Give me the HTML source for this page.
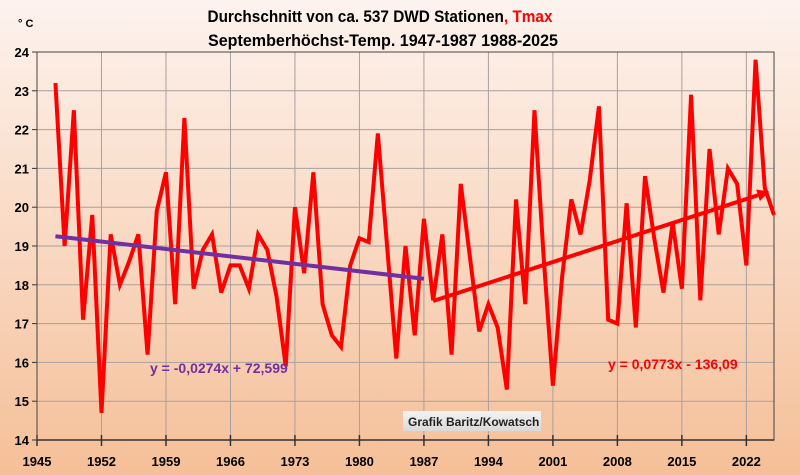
<!DOCTYPE html>
<html><head><meta charset="utf-8"><style>
html,body{margin:0;padding:0;width:800px;height:475px;overflow:hidden}
svg{display:block;font-family:"Liberation Sans",sans-serif}
</style></head><body>
<svg id="chart" width="800" height="475">
<defs>
<linearGradient id="bg" x1="0" y1="0" x2="0" y2="1">
<stop offset="0" stop-color="#fdf3ee"/><stop offset="1" stop-color="#f5bf98"/>
</linearGradient>
<linearGradient id="cb" x1="0" y1="0" x2="0" y2="1">
<stop offset="0" stop-color="#f4f4f4"/><stop offset="1" stop-color="#d9d9d9"/>
</linearGradient>
</defs>
<rect width="800" height="475" fill="url(#bg)"/>
<text x="380" y="22" text-anchor="middle" font-weight="bold" font-size="17" textLength="345" lengthAdjust="spacingAndGlyphs">Durchschnitt von ca. 537 DWD Stationen<tspan fill="#ff0000">, Tmax</tspan></text>
<text x="383" y="46" text-anchor="middle" font-weight="bold" font-size="17" textLength="350" lengthAdjust="spacingAndGlyphs">Septemberhöchst-Temp. 1947-1987 1988-2025</text>
<text x="18" y="27" font-size="11" font-weight="bold">° C</text>
<g id="grid"></g>
<g id="axes"></g>
<g id="series"></g>
<text x="150" y="373" font-size="14" font-weight="bold" fill="#7030a0">y = -0,0274x + 72,599</text>
<text x="608" y="369" font-size="14" font-weight="bold" fill="#ff0000">y = 0,0773x - 136,09</text>
<rect x="403" y="411" width="138" height="20" fill="url(#cb)"/>
<text x="408" y="426" font-size="12" font-weight="bold" fill="#222">Grafik Baritz/Kowatsch</text>
</svg>
<script>
const years1 = [1947,1948,1949,1950,1951,1952,1953,1954,1955,1956,1957,1958,1959,1960,1961,1962,1963,1964,1965,1966,1967,1968,1969,1970,1971,1972,1973,1974,1975,1976,1977,1978,1979,1980,1981,1982,1983,1984,1985,1986,1987];
const values1 = [23.2,19.0,22.5,17.1,19.8,14.7,19.3,18.0,18.6,19.3,16.2,19.9,20.9,17.5,22.3,17.9,18.9,19.3,17.8,18.5,18.5,17.9,19.3,18.9,17.7,15.9,20.0,18.3,20.9,17.5,16.7,16.4,18.5,19.2,19.1,21.9,19.0,16.1,19.0,16.7,19.7];
const years2 = [1988,1989,1990,1991,1992,1993,1994,1995,1996,1997,1998,1999,2000,2001,2002,2003,2004,2005,2006,2007,2008,2009,2010,2011,2012,2013,2014,2015,2016,2017,2018,2019,2020,2021,2022,2023,2024,2025];
const values2 = [17.6,19.3,16.2,20.6,18.7,16.8,17.5,16.9,15.3,20.2,17.5,22.5,18.7,15.4,18.2,20.2,19.3,20.7,22.6,17.1,17.0,20.1,16.9,20.8,19.2,17.8,19.6,17.9,22.9,17.6,21.5,19.3,21.0,20.6,18.5,23.8,20.5,19.8];
const xTicks = [1945,1952,1959,1966,1973,1980,1987,1994,2001,2008,2015,2022];
const yTicks = [14,15,16,17,18,19,20,21,22,23,24];
const trend1 = [-0.0274, 72.599];
const trend2 = [0.0773, -136.09];

const NS="http://www.w3.org/2000/svg";
const L=37,R=774,T=52,B=440,X0=1945,X1=2025,Y0=14,Y1=24;
const xs=v=>L+(v-X0)*(R-L)/(X1-X0);
const ys=v=>B-(v-Y0)*(B-T)/(Y1-Y0);
function mk(tag,attrs,parent){const e=document.createElementNS(NS,tag);for(const k in attrs)e.setAttribute(k,attrs[k]);parent.appendChild(e);return e;}
const grid=document.getElementById('grid'),axes=document.getElementById('axes'),series=document.getElementById('series');

yTicks.forEach(v=>{
  const g=mk('line',{x1:L,x2:R,y1:ys(v),y2:ys(v),stroke:'#a8a0a0','stroke-width':1},grid);
  
  
  const t=mk('line',{x1:L-5,x2:L,y1:ys(v),y2:ys(v),stroke:'#333','stroke-width':1},axes);
  
  
  const lb=mk('text',{x:L-8,y:ys(v)+5,'text-anchor':'end','font-size':13,'font-weight':'bold'},axes);
  lb.textContent=v;
  
  
});
xTicks.forEach(v=>{
  const g=mk('line',{x1:xs(v),x2:xs(v),y1:T,y2:B,stroke:'#a8a0a0','stroke-width':1},grid);
  
  
  const t=mk('line',{x1:xs(v),x2:xs(v),y1:B-5,y2:B+6,stroke:'#333','stroke-width':1.5},axes);
  
  
  const lb=mk('text',{x:xs(v),y:B+26,'text-anchor':'middle','font-size':13,'font-weight':'bold'},axes);
  lb.textContent=v;
  
  
});
const fr=mk('rect',{x:L,y:T,width:R-L,height:B-T,fill:'none',stroke:'#444','stroke-width':1},axes);


const xa=mk('line',{x1:L,x2:R,y1:B,y2:B,stroke:'#333','stroke-width':1.5},axes);



const allY=years1.concat(years2),allV=values1.concat(values2);
const pl=mk('polyline',{points:allY.map((y,i)=>xs(y)+','+ys(allV[i])).join(' '),fill:'none',stroke:'#ff0000','stroke-width':4,'stroke-linejoin':'miter'},series);



const a1=years1[0],b1=years1[years1.length-1];
const tl1=mk('line',{x1:xs(a1),y1:ys(trend1[0]*a1+trend1[1]),x2:xs(b1),y2:ys(trend1[0]*b1+trend1[1]),stroke:'#7030a0','stroke-width':4},series);



const a2=years2[0],b2=2024.5;
const x1=xs(a2),y1=ys(trend2[0]*a2+trend2[1]),x2=xs(b2),y2=ys(trend2[0]*b2+trend2[1]);
const ang=Math.atan2(y2-y1,x2-x1),h=12,w=6;
const tl2=mk('line',{x1:x1,y1:y1,x2:x2-h*Math.cos(ang),y2:y2-h*Math.sin(ang),stroke:'#ff0000','stroke-width':4},series);


const bx=x2-h*Math.cos(ang),by=y2-h*Math.sin(ang);
const p=[[x2,y2],[bx+w*Math.sin(ang),by-w*Math.cos(ang)],[bx-w*Math.sin(ang),by+w*Math.cos(ang)]];
const ah=mk('polygon',{points:p.map(q=>q.join(',')).join(' '),fill:'#ff0000'},series);


</script>
</body></html>
